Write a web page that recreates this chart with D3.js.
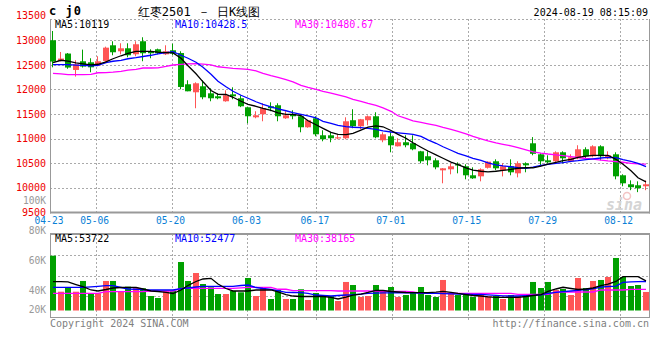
<!DOCTYPE html>
<html><head><meta charset="utf-8">
<script src="https://cdn.jsdelivr.net/npm/d3@7/dist/d3.min.js"></script>
<style>
html,body{margin:0;padding:0;background:#fff;}
svg{display:block;}
text{font-family:"DejaVu Sans Mono","Liberation Mono",monospace;}
</style></head>
<body><svg id="c" width="660" height="360"></svg>
<script>
// ---------- data ----------
const dates = ["04-23","04-24","04-25","04-26","04-29","04-30","05-06","05-07","05-08","05-09","05-10","05-13","05-14","05-15","05-16","05-17","05-20","05-21","05-22","05-23","05-24","05-27","05-28","05-29","05-30","05-31","06-03","06-04","06-05","06-06","06-07","06-11","06-12","06-13","06-14","06-17","06-18","06-19","06-20","06-21","06-24","06-25","06-26","06-27","06-28","07-01","07-02","07-03","07-04","07-05","07-08","07-09","07-10","07-11","07-12","07-15","07-16","07-17","07-18","07-19","07-22","07-23","07-24","07-25","07-26","07-29","07-30","07-31","08-01","08-02","08-05","08-06","08-07","08-08","08-09","08-12","08-13","08-14","08-15","08-16"];
const tickIdx = [0,6,16,26,35,45,55,65,75];
const priceTicks = [9500,10000,10500,11000,11500,12000,12500,13000,13500];
const priceGrid = [10000,10500,11000,11500,12000,12500,13000];
const volTickLabels = [100,80,60,40,20]; // K

const open  = [13000,12579,12730,12396,12573,12552,12490,12580,12898,12776,12837,12715,12980,12776,12817,12715,12797,12740,12105,11942,12064,11921,11860,11759,11900,11820,11637,11433,11495,11657,11678,11413,11495,11454,11230,11413,11067,11067,11006,11006,11373,11250,11373,11454,10965,11047,10843,10925,10904,10741,10640,10558,10354,10375,10477,10436,10253,10232,10405,10538,10354,10436,10293,10497,10904,10680,10558,10538,10721,10538,10599,10782,10640,10843,10599,10680,10253,10070,10050,10030];
const high  = [13189,12762,12740,12593,12810,12634,12675,12870,12980,12939,12939,12980,13061,12817,12830,12898,12930,12776,12186,12145,12186,12023,11921,11982,12043,11880,11650,11556,11718,11738,11718,11556,11576,11495,11380,11454,11169,11128,11087,11433,11597,11400,11470,11535,11128,11128,11006,11067,11067,10750,10741,10599,10400,10497,10517,10477,10415,10395,10538,10578,10497,10578,10538,10517,11030,10700,10660,10741,10741,10680,10864,10823,10864,10864,10741,10721,10273,10150,10130,10150];
const low   = [12450,12570,12420,12261,12445,12349,12470,12540,12695,12715,12654,12675,12573,12634,12715,12700,12700,12003,11962,11617,11800,11759,11800,11750,11800,11640,11311,11413,11352,11556,11352,11400,11393,11128,11220,11047,10945,10925,10986,10986,11210,11190,11270,11006,10925,10721,10840,10823,10762,10497,10456,10375,10090,10273,10293,10171,10180,10130,10390,10354,10230,10253,10211,10314,10660,10456,10497,10497,10497,10520,10580,10599,10620,10558,10580,10171,10030,9950,9910,9950];
const close = [12567,12628,12445,12512,12465,12450,12573,12850,12756,12837,12695,12919,12736,12736,12736,12776,12730,12050,11962,12125,11840,11820,11820,11880,11860,11657,11454,11474,11617,11617,11454,11474,11454,11230,11373,11087,10986,11006,11026,11352,11250,11393,11454,11026,11087,10864,10925,10864,10782,10538,10558,10415,10395,10436,10456,10253,10191,10375,10530,10395,10436,10314,10497,10456,10690,10538,10517,10721,10599,10619,10782,10640,10843,10640,10660,10232,10090,10010,9990,10070];
const volume = [99100,34000,42000,34000,53400,31100,31100,53400,53400,35300,43100,41200,40200,26200,22600,35300,35300,87700,53400,67800,47900,42000,29800,29800,35300,32900,58800,26200,42000,20800,37100,20800,20800,38400,19000,31700,28000,26200,17200,51600,46100,24400,26200,46100,35300,42500,24400,28000,31700,42500,28000,24400,55200,31700,28000,29800,24400,28000,26200,26200,20800,28000,26200,26200,51600,40700,51600,37100,38900,28000,58800,40700,53400,55200,60600,95000,60600,44300,46100,33500];

const ma5  = [12546,12593,12577,12540,12520,12499,12512,12562,12624,12685,12731,12776,12776,12776,12760,12750,12742,12634,12481,12318,12155,11978,11901,11897,11840,11760,11698,11657,11616,11576,11525,11494,11494,11468,11362,11281,11209,11128,11087,11081,11107,11173,11234,11260,11240,11164,11087,11006,10914,10823,10747,10670,10599,10522,10471,10406,10359,10335,10323,10335,10355,10372,10396,10406,10406,10440,10481,10518,10553,10575,10616,10645,10660,10660,10660,10578,10477,10344,10202,10119];
const ma10 = [12505,12505,12505,12495,12489,12481,12491,12546,12573,12593,12624,12646,12670,12695,12723,12750,12766,12695,12634,12552,12451,12308,12166,12054,11962,11881,11820,11749,11698,11647,11606,11566,11529,11494,11464,11423,11352,11311,11270,11244,11230,11223,11209,11189,11158,11134,11118,11101,11087,11046,10975,10904,10833,10762,10701,10650,10599,10555,10508,10467,10443,10427,10410,10396,10420,10456,10477,10497,10511,10538,10552,10572,10589,10605,10619,10613,10574,10538,10497,10428.5];
const ma30 = [12328,12318,12302,12302,12302,12308,12339,12343,12353,12369,12394,12410,12436,12436,12440,12467,12497,12508,12518,12524,12516,12499,12461,12444,12430,12418,12410,12379,12328,12282,12247,12200,12155,12084,12044,12003,11962,11927,11891,11846,11799,11759,11718,11677,11626,11555,11464,11413,11362,11331,11301,11270,11230,11189,11148,11097,11046,10996,10955,10914,10884,10853,10817,10772,10731,10705,10686,10670,10654,10633,10615,10595,10582,10562,10545,10532,10518,10497,10485,10480.67];

const vma5  = [52100,52100,51600,47000,43100,37100,35300,38000,40700,41600,42000,42000,38900,35300,34400,32600,30800,37100,45200,52500,57000,58200,47900,39800,35300,35300,35300,37100,37100,37100,33500,28900,26200,25300,25300,25300,25300,23900,20800,24400,28000,29800,32600,36200,36200,34400,33500,32600,32200,32200,32200,33100,34700,32900,30800,28900,27100,26200,24800,23900,23900,23900,23900,25300,27100,28900,34400,38900,42000,39800,38000,38900,40700,44900,47900,52500,61100,61100,61100,53722];
const vma10 = [42000,42000,42000,42000,42000,42900,43800,44900,44900,41600,38900,38400,37600,37100,37100,37100,37100,39400,40700,42500,43800,43800,43800,43800,43800,45200,46100,41600,39800,38400,35800,32900,32600,32200,30800,28000,27100,26200,27100,28000,28600,29800,30800,31300,31700,32000,32200,32000,31700,31300,31100,30800,30400,30200,29800,29500,29300,29300,28400,27500,26600,26200,26200,26800,27500,28400,30800,32600,34000,35300,36500,38000,39300,42100,43400,44000,51000,51600,52100,52477];
const vma30 = [31100,31100,31100,31100,31100,31100,31100,34000,34000,34000,34000,34000,34400,35300,35300,35300,35300,40200,40200,40200,40200,40200,40200,40200,40200,41100,42000,42000,42000,42000,38400,38400,35800,35800,35800,35800,35800,35800,35300,35300,35300,35300,35300,34700,34700,34700,34700,34700,33500,31100,31100,31100,31100,31100,31100,31100,31100,31100,31100,31100,31100,31100,29300,29300,29300,29300,29300,33500,33500,33500,33500,33500,33500,37100,37100,37100,37100,38200,38200,38165];

// ---------- chart ----------
const svg = d3.select("#c");
const RED = "#ff5555", GREEN = "#00a000", GRID = "#aaaaaa", FRAME = "#999999";
const PL = 50, PR = 649.5, PT = 19, PB = 212.5, VT = 234, VB = 317;

const xb = d3.scaleBand().domain(d3.range(dates.length)).range([49.25, 649.25]).paddingInner(0.2).paddingOuter(0.1);
const xg = d3.scaleLinear().domain([0, dates.length - 1]).range([50, 650]);
const y = d3.scaleLinear().domain([9500, 13500]).range([212.3, 15.7]);
const yv = d3.scaleLinear().domain([0, 140000]).range([310.5, 233.1]);
const yvLab = d3.scaleLinear().domain([0, 100]).range([350, 200]);

svg.append("rect").attr("width", 660).attr("height", 360).attr("fill", "#fff");

// grid (price)
const g = svg.append("g");
g.selectAll(".hg").data(priceGrid).join("line")
  .attr("x1", PL).attr("x2", PR).attr("y1", d => Math.round(y(d)) + 0.5).attr("y2", d => Math.round(y(d)) + 0.5)
  .attr("stroke", GRID).attr("stroke-dasharray", "2,2");
g.append("line").attr("x1", PL).attr("x2", PR).attr("y1", PT + 0.5).attr("y2", PT + 0.5)
  .attr("stroke", GRID).attr("stroke-dasharray", "2,2");
g.selectAll(".vg").data(tickIdx.slice(1)).join("line")
  .attr("x1", d => Math.round(xg(d)) + 0.5).attr("x2", d => Math.round(xg(d)) + 0.5)
  .attr("y1", PT).attr("y2", PB).attr("stroke", GRID).attr("stroke-dasharray", "2,2");
// grid (volume)
g.selectAll(".vhg").data([1, 2, 3]).join("line")
  .attr("x1", PL).attr("x2", PR)
  .attr("y1", d => Math.round(VT + (VB - VT) * d / 4) + 0.5).attr("y2", d => Math.round(VT + (VB - VT) * d / 4) + 0.5)
  .attr("stroke", GRID).attr("stroke-dasharray", "2,2");
g.selectAll(".vvg").data(tickIdx.slice(1)).join("line")
  .attr("x1", d => Math.round(xg(d)) + 0.5).attr("x2", d => Math.round(xg(d)) + 0.5)
  .attr("y1", VT).attr("y2", VB + 3).attr("stroke", GRID).attr("stroke-dasharray", "2,2");

// frames
const fr = svg.append("g").attr("stroke", FRAME).attr("fill", "none");
fr.append("line").attr("x1", PL + 0.5).attr("x2", PL + 0.5).attr("y1", PT).attr("y2", PB + 1);
fr.append("line").attr("x1", PR).attr("x2", PR).attr("y1", PT).attr("y2", PB + 1);
fr.append("line").attr("x1", PL).attr("x2", PR + 0.5).attr("y1", PB).attr("y2", PB).attr("stroke-width", 2);
fr.append("line").attr("x1", PL).attr("x2", PR + 0.5).attr("y1", VT).attr("y2", VT).attr("stroke-width", 2);
fr.append("line").attr("x1", PL + 0.5).attr("x2", PL + 0.5).attr("y1", VT).attr("y2", VB);
fr.append("line").attr("x1", PR).attr("x2", PR).attr("y1", VT).attr("y2", VB);
fr.append("line").attr("x1", PL).attr("x2", PR + 0.5).attr("y1", VB + 0.5).attr("y2", VB + 0.5);

// watermark
const wm = svg.append("g");
wm.append("text").attr("x", 624).attr("y", 210).attr("text-anchor", "middle")
  .attr("font-family", "DejaVu Sans").attr("font-style", "italic").attr("font-weight", "bold")
  .attr("font-size", 15).attr("fill", "#d4d4d4").text("sina");
wm.append("circle").attr("cx", 627).attr("cy", 196).attr("r", 3.5).attr("fill", "none").attr("stroke", "#f3c4c4").attr("stroke-width", 1.5);

// candles
const cg = svg.append("g");
const cx = i => Math.round(xb(i));
cg.selectAll(".wick").data(d3.range(dates.length)).join("line")
  .attr("x1", i => cx(i) + 2.5).attr("x2", i => cx(i) + 2.5)
  .attr("y1", i => y(high[i])).attr("y2", i => y(low[i]))
  .attr("stroke", i => close[i] >= open[i] ? RED : GREEN).attr("stroke-width", 1);
cg.selectAll(".body").data(d3.range(dates.length)).join("rect")
  .attr("x", i => cx(i)).attr("width", xb.bandwidth())
  .attr("y", i => y(Math.max(open[i], close[i])))
  .attr("height", i => Math.max(1.2, Math.abs(y(open[i]) - y(close[i]))))
  .attr("fill", i => close[i] >= open[i] ? RED : GREEN);

// MA lines
const lineP = d3.line().x((d, i) => cx(i) + 3).y(d => y(d));
[[ma30, "#ff00ff"], [ma10, "#0000ff"], [ma5, "#000000"]].forEach(([arr, col]) => {
  svg.append("path").attr("d", lineP(arr)).attr("fill", "none").attr("stroke", col).attr("stroke-width", 1.3);
});

// volume bars
svg.append("g").selectAll("rect").data(d3.range(dates.length)).join("rect")
  .attr("x", i => cx(i)).attr("width", xb.bandwidth())
  .attr("y", i => yv(volume[i])).attr("height", i => yv(0) - yv(volume[i]))
  .attr("fill", i => close[i] >= open[i] ? RED : GREEN);
const lineV = d3.line().x((d, i) => cx(i) + 3).y(d => yv(d));
[[vma30, "#ff00ff"], [vma10, "#0000ff"], [vma5, "#000000"]].forEach(([arr, col]) => {
  svg.append("path").attr("d", lineV(arr)).attr("fill", "none").attr("stroke", col).attr("stroke-width", 1.3);
});

// price axis labels
const ay = svg.append("g").attr("transform", `translate(${PL},0)`)
  .call(d3.axisLeft(y).tickValues(priceTicks).tickSize(0).tickPadding(4).tickFormat(d3.format("d")));
ay.select(".domain").remove();
ay.selectAll("text").attr("fill", "#ee0000").attr("font-size", 10).attr("font-family", "DejaVu Sans Mono");

// x axis labels
const ax = svg.append("g").attr("transform", `translate(-1.5,${PB})`)
  .call(d3.axisBottom(xg).tickValues(tickIdx).tickSize(0).tickPadding(5).tickFormat(i => dates[i]));
ax.select(".domain").remove();
ax.selectAll("text").attr("fill", "#0a7fd6").attr("font-size", 9.6).attr("font-family", "DejaVu Sans Mono");

// volume labels
svg.append("g").selectAll("text").data(volTickLabels).join("text")
  .attr("x", 46).attr("y", d => Math.min(yvLab(d) + 0.5, 310)).attr("dy", "0.35em")
  .attr("text-anchor", "end").attr("font-size", 9.6).attr("fill", "#999999")
  .text(d => d + "K");

// header texts
svg.append("text").attr("x", 49).attr("y", 15).attr("font-size", 12).attr("font-weight", "bold")
  .attr("letter-spacing", 1).text("c j0");
svg.append("text").attr("x", 199).attr("y", 16).attr("text-anchor", "middle")
  .attr("font-family", "Noto Sans CJK SC").attr("font-size", 12).text("红枣2501 － 日K线图");
svg.append("text").attr("x", 648).attr("y", 16).attr("text-anchor", "end").attr("font-size", 10).text("2024-08-19 08:15:09");

const legend = (yy, items) => items.forEach(([tx, xx, col]) =>
  svg.append("text").attr("x", xx).attr("y", yy).attr("font-size", 10).attr("fill", col).text(tx));
legend(28, [["MA5:" + ma5[ma5.length - 1], 55, "#000"], ["MA10:" + ma10[ma10.length - 1], 175, "#0000ff"], ["MA30:" + ma30[ma30.length - 1], 295, "#ff00ff"]]);
legend(242, [["MA5:" + vma5[vma5.length - 1], 55, "#000"], ["MA10:" + vma10[vma10.length - 1], 175, "#0000ff"], ["MA30:" + vma30[vma30.length - 1], 295, "#ff00ff"]]);

svg.append("text").attr("x", 50).attr("y", 327).attr("font-size", 10).attr("fill", "#808080").text("Copyright 2024 SINA.COM");
svg.append("text").attr("x", 649).attr("y", 327).attr("text-anchor", "end").attr("font-size", 10).attr("fill", "#808080").text("http://finance.sina.com.cn");
</script></body></html>
